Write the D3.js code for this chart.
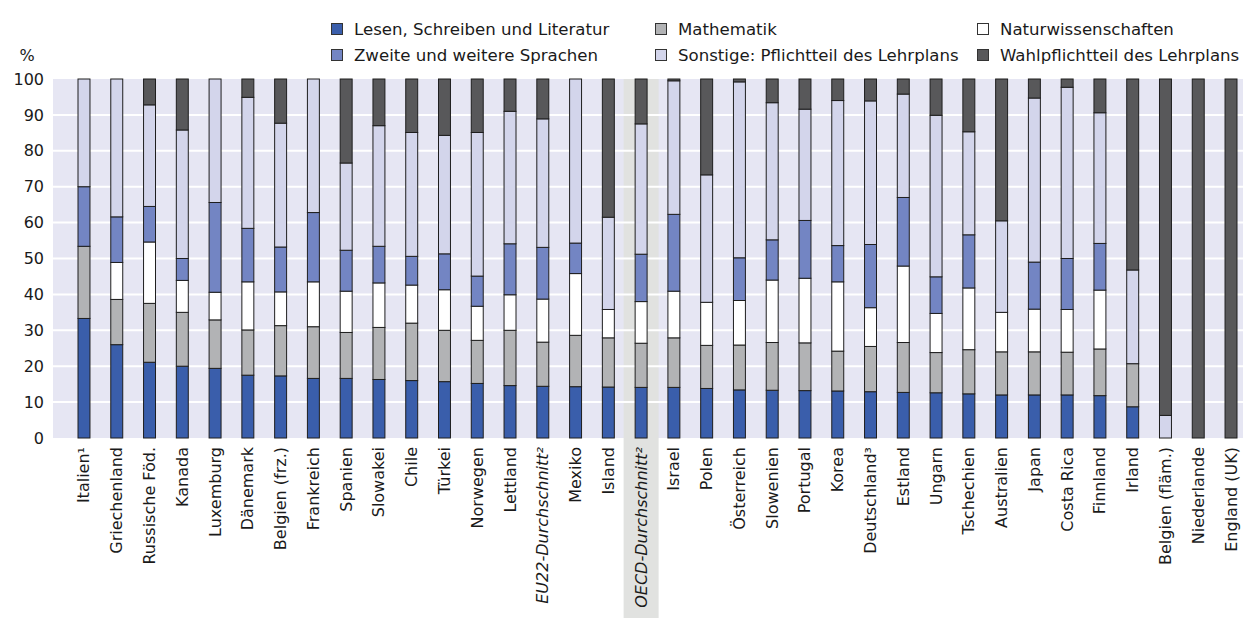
<!DOCTYPE html>
<html lang="de">
<head>
<meta charset="UTF-8" />
<title>Unterrichtszeit</title>
<script src="https://cdn.jsdelivr.net/npm/d3@7"></script>
<style>
	body { margin: 0; background: #fff; }
	text { font-family: "DejaVu Sans", Verdana, sans-serif; fill: #1a1a1a; }
</style>
</head>
<body>
<svg id="vis" width="1243" height="618"></svg>
<script>
	// Kategorien (Länder)
	const laender = ["Italien¹", "Griechenland", "Russische Föd.", "Kanada", "Luxemburg", "Dänemark",
		"Belgien (frz.)", "Frankreich", "Spanien", "Slowakei", "Chile", "Türkei", "Norwegen", "Lettland",
		"EU22-Durchschnitt²", "Mexiko", "Island", "OECD-Durchschnitt²", "Israel", "Polen", "Österreich",
		"Slowenien", "Portugal", "Korea", "Deutschland³", "Estland", "Ungarn", "Tschechien", "Australien",
		"Japan", "Costa Rica", "Finnland", "Irland", "Belgien (fläm.)", "Niederlande", "England (UK)"];

	// Anteile in % (von unten nach oben gestapelt)
	const lesen = [33.3, 26.0, 21.1, 20.0, 19.4, 17.5, 17.3, 16.6, 16.6, 16.3, 16.0, 15.7, 15.2, 14.6,
		14.4, 14.3, 14.2, 14.1, 14.1, 13.8, 13.4, 13.3, 13.2, 13.1, 12.9, 12.7, 12.6, 12.3, 12.0,
		12.0, 12.0, 11.8, 8.7, 0, 0, 0];
	const mathe = [20.1, 12.6, 16.4, 15.0, 13.5, 12.6, 14.0, 14.4, 12.8, 14.5, 16.0, 14.3, 12.0, 15.4,
		12.3, 14.3, 13.7, 12.3, 13.8, 12.0, 12.5, 13.3, 13.3, 11.1, 12.6, 13.9, 11.2, 12.3, 12.0,
		12.0, 11.9, 13.0, 12.0, 0, 0, 0];
	const natur = [0, 10.3, 17.1, 8.9, 7.7, 13.4, 9.4, 12.5, 11.5, 12.4, 10.6, 11.3, 9.5, 9.9,
		12.0, 17.2, 7.9, 11.6, 13.0, 12.0, 12.4, 17.4, 18.0, 19.3, 10.8, 21.3, 10.9, 17.2, 11.0,
		11.9, 11.9, 16.4, 0, 0, 0, 0];
	const sprachen = [16.6, 12.7, 9.9, 6.1, 25.0, 14.9, 12.5, 19.3, 11.4, 10.2, 8.0, 10.0, 8.4, 14.2,
		14.4, 8.5, 0, 13.2, 21.4, 0, 11.9, 11.2, 16.1, 10.1, 17.6, 19.1, 10.2, 14.8, 0,
		13.1, 14.2, 13.0, 0, 0, 0, 0];
	const sonstige = [30.0, 38.4, 28.3, 35.8, 34.4, 36.5, 34.5, 37.2, 24.3, 33.6, 34.5, 33.0, 40.0, 36.9,
		35.8, 45.7, 25.7, 36.3, 37.2, 35.5, 49.0, 38.2, 31.0, 40.4, 40.0, 28.8, 45.0, 28.7, 25.5,
		45.7, 47.7, 36.4, 26.1, 6.3, 0, 0];
	const wahl = [0, 0, 7.2, 14.2, 0, 5.1, 12.3, 0, 23.4, 13.0, 14.9, 15.7, 14.9, 9.0,
		11.1, 0, 38.5, 12.5, 0.5, 26.7, 0.8, 6.6, 8.4, 6.0, 6.1, 4.2, 10.1, 14.7, 39.5,
		5.3, 2.3, 9.4, 53.2, 93.7, 100, 100];

	const yTicks = [0, 10, 20, 30, 40, 50, 60, 70, 80, 90, 100];

	const serien = [
		{ key: "lesen", name: "Lesen, Schreiben und Literatur", werte: lesen, farbe: "#3a5eab" },
		{ key: "mathe", name: "Mathematik", werte: mathe, farbe: "#b2b3b5" },
		{ key: "natur", name: "Naturwissenschaften", werte: natur, farbe: "#ffffff" },
		{ key: "sprachen", name: "Zweite und weitere Sprachen", werte: sprachen, farbe: "#7385c3" },
		{ key: "sonstige", name: "Sonstige: Pflichtteil des Lehrplans", werte: sonstige, farbe: "#d3d5eb" },
		{ key: "wahl", name: "Wahlpflichtteil des Lehrplans", werte: wahl, farbe: "#58585a" }
	];

	// Tabelle für d3.stack
	let tabelle = laender.map(function (l, i) {
		let zeile = { land: l };
		serien.forEach(function (s) { zeile[s.key] = s.werte[i]; });
		return zeile;
	});

	let svg = d3.select("#vis");
	let plotLeft = 53, plotRight = 1243, plotTop = 79, plotBottom = 438;

	let scaleX = d3.scaleBand().domain(laender).range([67.6, 1247.4])
		.paddingInner(0.635).paddingOuter(0.3175);
	let scaleY = d3.scaleLinear().domain([0, 100]).range([plotBottom, plotTop]);

	// Hintergrund
	svg.append("rect").attr("x", plotLeft).attr("y", plotTop)
		.attr("width", plotRight - plotLeft).attr("height", plotBottom - plotTop)
		.attr("fill", "#e6e6f3");

	// OECD hervorheben
	let oecd = "OECD-Durchschnitt²";
	let cx = scaleX(oecd) + scaleX.bandwidth() / 2;
	svg.append("rect").attr("x", cx - 17.5).attr("y", plotTop)
		.attr("width", 35).attr("height", 618 - plotTop)
		.attr("fill", "#e1e2e0");

	// Gitternetz
	svg.append("g").selectAll("line").data(yTicks.slice(1, -1)).join("line")
		.attr("x1", plotLeft).attr("x2", plotRight)
		.attr("y1", d => scaleY(d)).attr("y2", d => scaleY(d))
		.attr("stroke", "#fff").attr("stroke-width", 2);

	// Y-Achse
	let yAxis = d3.axisLeft(scaleY).tickValues(yTicks).tickSize(0).tickPadding(0);
	let gy = svg.append("g").attr("transform", "translate(44,0)").call(yAxis);
	gy.select(".domain").remove();
	gy.selectAll("text").attr("font-size", 16).attr("font-family", "DejaVu Sans, Verdana, sans-serif")
		.attr("fill", "#1a1a1a");
	svg.append("text").attr("x", 27).attr("y", 61).attr("text-anchor", "middle")
		.attr("font-size", 16).text("%");

	// Balken
	let stack = d3.stack().keys(serien.map(s => s.key));
	let gestapelt = stack(tabelle);
	let gBars = svg.append("g");
	gestapelt.forEach(function (schicht, k) {
		gBars.append("g").attr("fill", serien[k].farbe)
			.selectAll("rect").data(schicht.filter(d => d[1] - d[0] > 0)).join("rect")
			.attr("x", d => scaleX(d.data.land))
			.attr("y", d => scaleY(d[1]))
			.attr("width", scaleX.bandwidth())
			.attr("height", d => scaleY(d[0]) - scaleY(d[1]))
			.attr("stroke", "#1e1e1e").attr("stroke-width", 1);
	});

	// X-Beschriftung
	let gx = svg.append("g");
	laender.forEach(function (l) {
		let x = scaleX(l) + scaleX.bandwidth() / 2;
		let t = gx.append("text")
			.attr("transform", "translate(" + (x + 5.5) + ",447) rotate(-90)")
			.attr("text-anchor", "end").attr("font-size", 16).text(l);
		if (l.indexOf("Durchschnitt") >= 0) t.attr("font-style", "italic");
	});

	// Legende
	let legX = [331, 655, 977];
	let legY = [23, 49];
	let gLeg = svg.append("g");
	serien.forEach(function (s, n) {
		let x = legX[n % 3], y = legY[Math.floor(n / 3)];
		gLeg.append("rect").attr("x", x + 0.5).attr("y", y + 0.5).attr("width", 11).attr("height", 11)
			.attr("fill", s.farbe).attr("stroke", "#333").attr("stroke-width", 1);
		gLeg.append("text").attr("x", x + 23).attr("y", y + 11.5).attr("font-size", 16.6).text(s.name);
	});
</script>
</body>
</html>
